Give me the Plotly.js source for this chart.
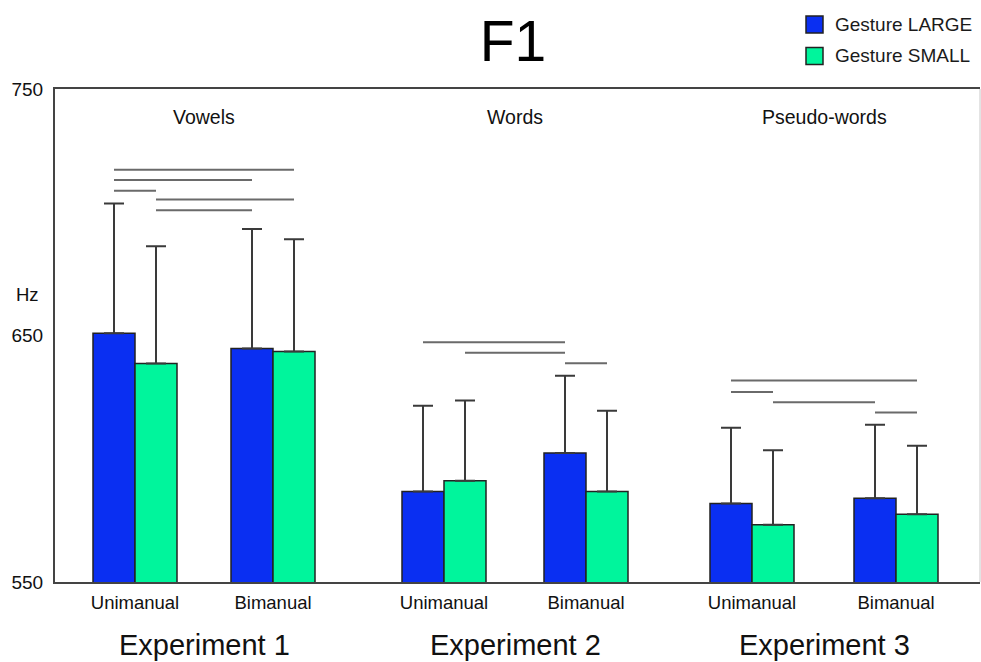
<!DOCTYPE html>
<html>
<head>
<meta charset="utf-8">
<script src="https://cdn.plot.ly/plotly-3.0.1.min.js"></script>
<style>html,body{margin:0;padding:0;background:#fff;}#chart{width:981px;height:662px;}</style>
</head>
<body>
<div id="chart"></div>
<script>
// ---- data ----
const experiments = ['Experiment 1', 'Experiment 2', 'Experiment 3'];
const stimulusTypes = ['Vowels', 'Words', 'Pseudo-words'];
const conditions = ['Unimanual', 'Bimanual', 'Unimanual', 'Bimanual', 'Unimanual', 'Bimanual'];
const seriesNames = ['Gesture LARGE', 'Gesture SMALL'];
const largeMeans = [650.9, 644.7, 586.7, 602.3, 581.8, 584.0];
const largeErr   = [52.6, 48.5, 34.8, 31.4, 30.8, 29.8];
const smallMeans = [638.6, 643.5, 591.1, 586.7, 573.2, 577.5];
const smallErr   = [47.6, 45.5, 32.5, 32.8, 30.2, 27.8];
// significance brackets: [group, series, group, series, Hz]
const sigLines = [
  [0,0,1,1,717.2],[0,0,1,0,713.1],[0,0,0,1,708.7],[0,1,1,1,705.2],[0,1,1,0,700.8],
  [2,0,3,0,647.3],[2,1,3,0,643.0],[3,0,3,1,638.7],
  [4,0,5,1,631.7],[4,0,4,1,627.1],[4,1,5,0,622.9],[5,0,5,1,618.8]
];
const yTicks = [550, 650, 750];

// ---- layout constants ----
const groupPos = [135, 273, 444, 586, 752, 896];
const barW = 42;
const colors = ['#0a2ff2', '#00f59c'];
const xMin = 55, xMax = 980;
const plotTop = 89, plotBottom = 582;
const pxToPaperX = px => (px - xMin) / (xMax - xMin);
const pxToPaperY = py => (plotBottom - py) / (plotBottom - plotTop);
const FONT = 'Liberation Sans, Arial, sans-serif';

const zeros = groupPos.map(() => 0);
function barTrace(name, means, err, color, offset) {
  return {
    type: 'bar', name: name, x: groupPos, y: means,
    width: barW, offset: offset,
    marker: {color: color, line: {color: '#222', width: 1.5}},
    error_y: {type: 'data', symmetric: false, array: err, arrayminus: zeros,
              color: '#3a3a3a', thickness: 2, width: 10},
    showlegend: false, hoverinfo: 'y'
  };
}
const traces = [
  barTrace(seriesNames[0], largeMeans, largeErr, colors[0], -barW),
  barTrace(seriesNames[1], smallMeans, smallErr, colors[1], 0)
];

const center = (g, s) => groupPos[g] + (s === 0 ? -barW / 2 : barW / 2);
const shapes = sigLines.map(l => ({
  type: 'line', xref: 'x', yref: 'y',
  x0: center(l[0], l[1]), x1: center(l[2], l[3]), y0: l[4], y1: l[4],
  line: {color: '#6a6a6a', width: 2}
}));
// right frame edge (light)
shapes.push({type: 'line', xref: 'paper', yref: 'paper', x0: 1, x1: 1, y0: 0, y1: 1,
             line: {color: '#c8c8c8', width: 1}});
// legend swatches
const legendRows = [24.5, 56];
legendRows.forEach((cy, i) => {
  shapes.push({type: 'rect', xref: 'paper', yref: 'paper',
    x0: pxToPaperX(806), x1: pxToPaperX(823),
    y0: pxToPaperY(cy - 8.5), y1: pxToPaperY(cy + 8.5),
    fillcolor: colors[i], line: {color: '#222', width: 1.5}});
});

const annotations = [];
legendRows.forEach((cy, i) => {
  annotations.push({text: seriesNames[i], xref: 'paper', yref: 'paper',
    x: pxToPaperX(833), y: pxToPaperY(cy), xanchor: 'left', yanchor: 'middle',
    showarrow: false, font: {family: FONT, size: 19, color: '#1a1a1a'}});
});
experiments.forEach((e, i) => {
  const cx = (groupPos[2 * i] + groupPos[2 * i + 1]) / 2;
  annotations.push({text: e, xref: 'x', yref: 'paper', x: cx, y: pxToPaperY(645),
    xanchor: 'center', yanchor: 'middle', showarrow: false,
    font: {family: FONT, size: 29, color: '#111'}});
  annotations.push({text: stimulusTypes[i], xref: 'x', yref: 'paper', x: cx, y: pxToPaperY(117),
    xanchor: 'center', yanchor: 'middle', showarrow: false,
    font: {family: FONT, size: 19.5, color: '#111'}});
});
annotations.push({text: 'Hz', xref: 'paper', yref: 'paper', x: pxToPaperX(27), y: pxToPaperY(294),
  xanchor: 'center', yanchor: 'middle', showarrow: false,
  font: {family: FONT, size: 18.5, color: '#111'}});

const layout = {
  width: 981, height: 662,
  margin: {l: 55, r: 1, t: 89, b: 80, pad: 0},
  paper_bgcolor: '#fff', plot_bgcolor: '#fff',
  font: {family: FONT, color: '#111'},
  title: {text: 'F1', x: 513 / 981, xanchor: 'center', xref: 'container',
          y: 1 - 41 / 662, yanchor: 'middle', yref: 'container',
          font: {family: FONT, size: 57, color: '#000'}},
  barmode: 'overlay',
  showlegend: false,
  xaxis: {range: [xMin, xMax], tickvals: groupPos, ticktext: conditions,
          showline: true, linecolor: '#444', linewidth: 2, mirror: true,
          showgrid: false, zeroline: false, ticks: '', ticklabelstandoff: 3,
          tickfont: {family: FONT, size: 18.5, color: '#111'}, fixedrange: true},
  yaxis: {range: [550, 750], tickvals: yTicks, ticktext: yTicks.map(String),
          showline: true, linecolor: '#444', linewidth: 2,
          showgrid: false, zeroline: false, ticks: '', ticklabelstandoff: 6,
          tickfont: {family: FONT, size: 19, color: '#111'}, fixedrange: true},
  shapes: shapes,
  annotations: annotations
};

Plotly.newPlot('chart', traces, layout, {displayModeBar: false, staticPlot: true});
</script>
</body>
</html>
